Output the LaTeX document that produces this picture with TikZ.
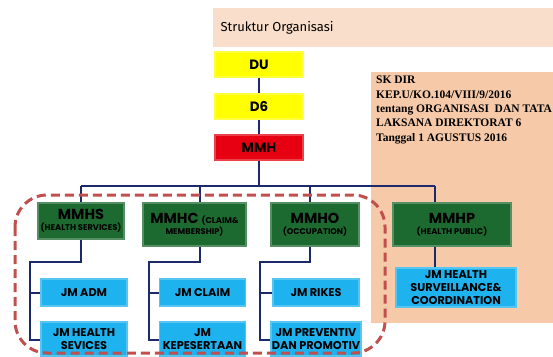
\documentclass[tikz,border=0pt]{standalone}
\usepackage{fontspec}
\setmainfont{Liberation Serif}
\newfontfamily\boxfont{Poppins}
\newfontfamily\titlefont{Fira Sans}
\usetikzlibrary{positioning}
\definecolor{cyellow}{HTML}{FFFF00}
\definecolor{cred}{HTML}{E60012}
\definecolor{cgreen}{HTML}{1D6A30}
\definecolor{cblue}{HTML}{1EB2EE}
\definecolor{cnavy}{HTML}{1C2A6B}
\definecolor{cdash}{HTML}{C0504D}
\definecolor{cpeach}{HTML}{F6C9A8}
\definecolor{cbanner}{HTML}{F8DECB}
\newcommand{\sm}[1]{{\fontsize{8.3}{10}\selectfont #1}}
\tikzset{
  box/.style={fill=#1, draw=#1!75!white, line width=1.5pt, align=center, inner sep=1pt, text=black},
  topbox/.style={box=#1, minimum width=88pt, minimum height=25pt, font=\boxfont\bfseries\fontsize{13.5}{14}\selectfont},
  mmbox/.style={box=cgreen, minimum height=43pt, font=\boxfont\bfseries\fontsize{14.5}{11}\selectfont},
  jmbox/.style={box=cblue, minimum width=86pt, font=\boxfont\bfseries\fontsize{11.3}{13}\selectfont},
  conn/.style={draw=cnavy, line width=2pt},
  grp/.style={draw=cdash, line width=3pt, dash pattern=on 9pt off 5pt, rounded corners=32pt},
}
\begin{document}
\begin{tikzpicture}[x=1pt, y=-1pt]
  \useasboundingbox (0,0) rectangle (553,356);
  % background panels
  \fill[cbanner] (213,8) rectangle (553,47);
  \node[anchor=west, font=\titlefont\fontsize{13}{14}\selectfont] (judul) at (217,28) {Struktur Organisasi};
  \fill[cpeach] (371,72) rectangle (553,323);
  \node[anchor=north west, align=left, inner sep=0pt, font=\bfseries\fontsize{11.5}{14.3}\selectfont] (sk) at (376,76)
    {SK DIR\\KEP.U/KO.104/VIII/9/2016\\tentang ORGANISASI~ DAN TATA\\LAKSANA DIREKTORAT 6\\Tanggal 1 AGUSTUS 2016};
  % top of the chain
  \node[topbox=cyellow] (du) at (259,64.5) {DU};
  \node[topbox=cyellow] (d6) at (259,106.5) {D6};
  \node[topbox=cred] (mmh) at (259,147.5) {MMH};
  % managers
  \node[mmbox, minimum width=86pt, minimum height=36pt] (mmhs) at (81,221) {MMHS\\\sm{(HEALTH SERVICES)}};
  \node[mmbox, minimum width=103pt] (mmhc) at (194.5,224.5) {MMHC \sm{(CLAIM\&}\\\sm{MEMBERSHIP)}};
  \node[mmbox, minimum width=88pt] (mmho) at (315,224.5) {MMHO\\\sm{(OCCUPATION)}};
  \node[mmbox, minimum width=118pt] (mmhp) at (452,224.5) {MMHP\\\sm{(HEALTH PUBLIC)}};
  % units
  \node[jmbox, minimum height=27pt] (adm) at (84,292.5) {JM ADM};
  \node[jmbox, minimum height=34pt] (hsev) at (84,339) {JM HEALTH\\SEVICES};
  \node[jmbox, minimum height=27pt] (claim) at (202.5,292.5) {JM CLAIM};
  \node[jmbox, minimum height=34pt] (kep) at (202.5,339) {JM\\KEPESERTAAN};
  \node[jmbox, minimum height=27pt] (rikes) at (316,292.5) {JM RIKES};
  \node[jmbox, minimum height=34pt] (prev) at (316,339) {JM PREVENTIV\\DAN PROMOTIV};
  \node[jmbox, minimum width=120pt, minimum height=39pt] (surv) at (456,287.5) {JM HEALTH\\SURVEILLANCE\&\\COORDINATION};
  % connectors
  \coordinate (bus) at (0,186);
  \coordinate (sub) at (0,262);
  \draw[conn] (du.south) -- (d6.north);
  \draw[conn] (d6.south) -- (mmh.north);
  \draw[conn] (mmh.south) -- (mmh.south |- bus);
  \draw[conn] (mmhs.north |- bus) -- ([xshift=-17pt]mmhp.north |- bus);
  \draw[conn] (mmhs.north |- bus) -- (mmhs.north);
  \draw[conn] ([xshift=5pt]mmhc.north |- bus) -- ([xshift=5pt]mmhc.north);
  \draw[conn] ([xshift=-5pt]mmho.north |- bus) -- ([xshift=-5pt]mmho.north);
  \draw[conn] ([xshift=-17pt]mmhp.north |- bus) -- ([xshift=-17pt]mmhp.north);
  \draw[conn] ([xshift=-17pt]mmhp.south) -- ([xshift=-17pt]mmhp.south |- surv.north);
  \draw[conn] (mmhs.south) -- (mmhs.south |- sub) -- ([xshift=-10pt]adm.west |- sub) |- ([yshift=-1pt]hsev.west);
  \draw[conn] ([xshift=-10pt]adm.west) -- (adm.west);
  \draw[conn] ([xshift=5pt]mmhc.south) -- ([xshift=5pt]mmhc.south |- sub) -- ([xshift=-10pt]claim.west |- sub) |- ([yshift=-1pt]kep.west);
  \draw[conn] ([xshift=-10pt]claim.west) -- (claim.west);
  \draw[conn] ([xshift=-5pt]mmho.south) -- ([xshift=-5pt]mmho.south |- sub) -- ([xshift=-12pt]rikes.west |- sub) |- ([yshift=-1pt]prev.west);
  \draw[conn] ([xshift=-12pt]rikes.west) -- (rikes.west);
  % group outline
  \draw[grp] (15,195) rectangle (385,353);
\end{tikzpicture}
\end{document}
